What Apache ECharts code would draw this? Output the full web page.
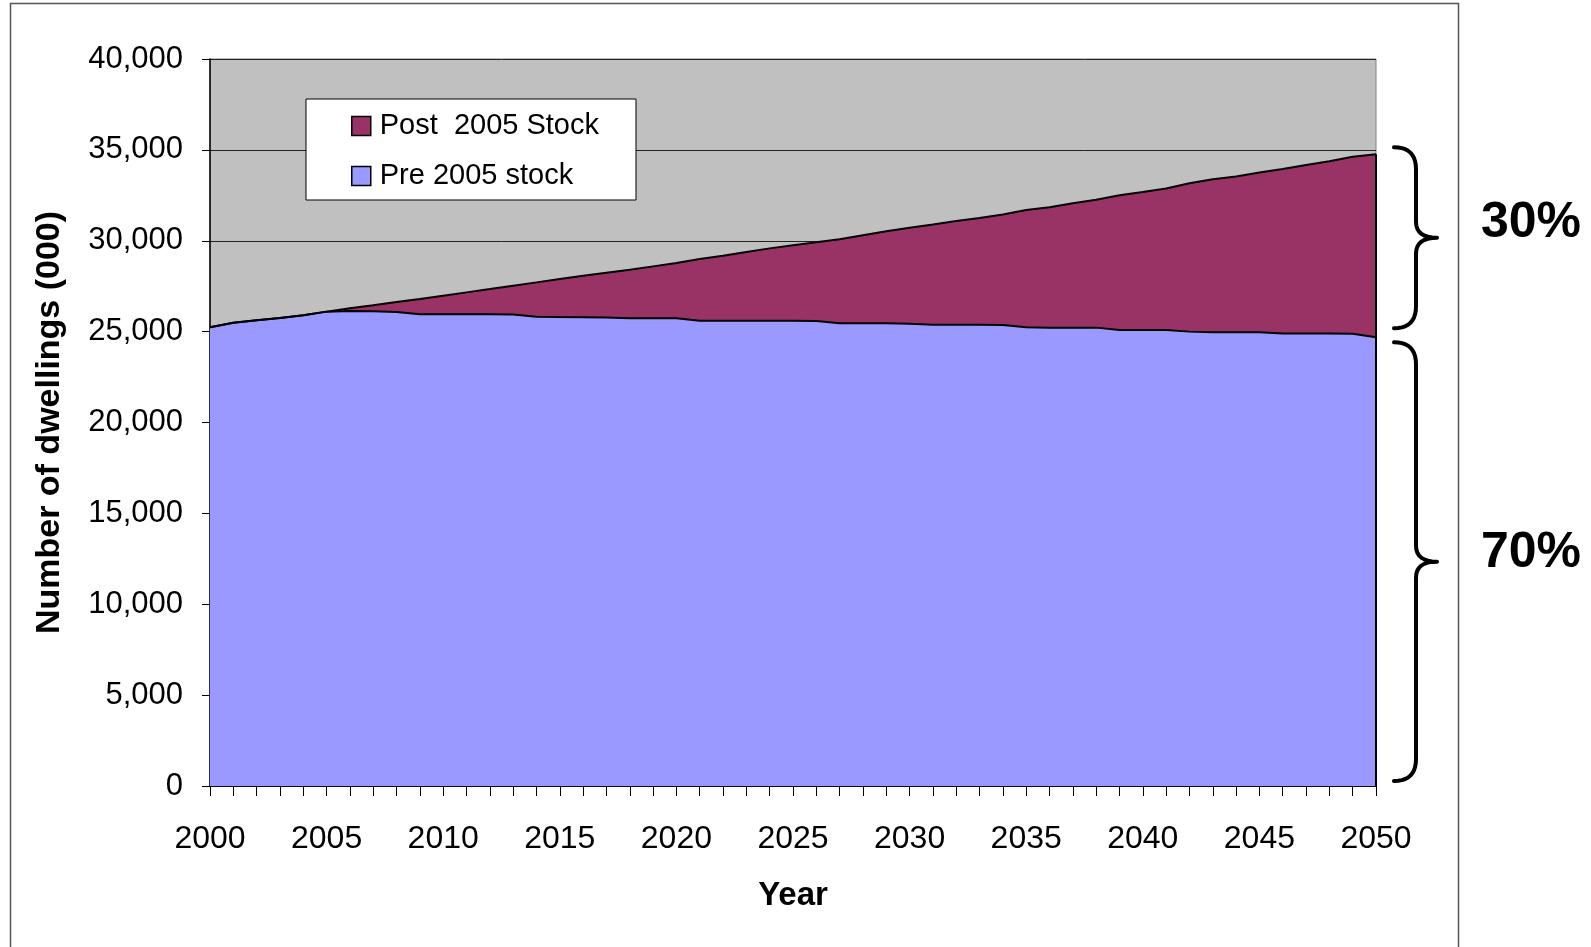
<!DOCTYPE html>
<html>
<head>
<meta charset="utf-8">
<script src="https://cdn.jsdelivr.net/npm/echarts@6/dist/echarts.min.js"></script>
<style>
  html, body { margin: 0; padding: 0; background: #fff; }
  #chart { width: 1591px; height: 947px; }
</style>
</head>
<body>
<div id="chart"></div>
<script>
// Dwelling stock projection, thousands of dwellings per year
const years = [
  '2000','2001','2002','2003','2004','2005','2006','2007','2008','2009',
  '2010','2011','2012','2013','2014','2015','2016','2017','2018','2019',
  '2020','2021','2022','2023','2024','2025','2026','2027','2028','2029',
  '2030','2031','2032','2033','2034','2035','2036','2037','2038','2039',
  '2040','2041','2042','2043','2044','2045','2046','2047','2048','2049',
  '2050'
];

const preStock = [
  25240, 25490, 25620, 25750, 25900, 26100, 26130, 26120, 26080, 25960,
  25960, 25960, 25960, 25940, 25820, 25800, 25790, 25780, 25730, 25730,
  25730, 25600, 25600, 25600, 25600, 25600, 25580, 25460, 25460, 25460,
  25440, 25380, 25380, 25380, 25360, 25240, 25220, 25220, 25220, 25090,
  25090, 25090, 25000, 24960, 24960, 24960, 24900, 24900, 24900, 24880,
  24690
];

const postStock = [
  0, 0, 0, 0, 0, 0, 150, 330, 550, 840,
  1020, 1200, 1380, 1590, 1890, 2100, 2290, 2460, 2670, 2860,
  3040, 3390, 3580, 3780, 3980, 4150, 4340, 4620, 4840, 5060,
  5280, 5520, 5710, 5870, 6090, 6450, 6620, 6840, 7040, 7410,
  7590, 7790, 8160, 8420, 8570, 8790, 9050, 9270, 9470, 9740,
  10070
];

const seriesNames = ['Pre 2005 stock', 'Post  2005 Stock'];
const shareLabels = ['30%', '70%'];
const yMin = 0, yMax = 40000, yStep = 5000;

const SANS = "'Liberation Sans', Arial, sans-serif";

const chart = echarts.init(document.getElementById('chart'), null, { renderer: 'canvas' });

const lastIdx = years.length - 1;

chart.setOption({
  animation: false,
  backgroundColor: '#ffffff',
  grid: {
    left: 210, right: 215, top: 59, bottom: 161,
    show: true,
    backgroundColor: '#C0C0C0',
    borderColor: '#808080',
    borderWidth: 1
  },
  legend: {
    left: 306, top: 99,
    orient: 'vertical',
    data: [seriesNames[1], seriesNames[0]],
    icon: 'rect',
    itemWidth: 19, itemHeight: 19, itemGap: 20,
    padding: [12, 37, 9, 45],
    backgroundColor: '#ffffff',
    borderColor: '#000000',
    borderWidth: 1,
    borderRadius: 0,
    itemStyle: { borderColor: '#000000', borderWidth: 1.5 },
    textStyle: { fontFamily: SANS, fontSize: 29, color: '#000', lineHeight: 30, padding: [0, 0, 0, 4] }
  },
  xAxis: {
    type: 'category',
    data: years,
    boundaryGap: false,
    axisLine: { show: true, lineStyle: { color: '#000', width: 1.5 } },
    axisTick: { show: true, interval: 0, length: 10, lineStyle: { color: '#000', width: 1 } },
    axisLabel: { interval: 4, fontFamily: SANS, fontSize: 32, color: '#000', margin: 37 },
    splitLine: { show: false },
    name: 'Year',
    nameLocation: 'middle',
    nameGap: 93,
    nameTextStyle: { fontFamily: SANS, fontSize: 33, fontWeight: 'bold', color: '#000' }
  },
  yAxis: {
    type: 'value',
    min: yMin, max: yMax, interval: yStep,
    axisLine: { show: true, lineStyle: { color: '#000', width: 1.5 } },
    axisTick: { show: true, length: 8, lineStyle: { color: '#000', width: 1 } },
    axisLabel: {
      fontFamily: SANS, fontSize: 31, color: '#000', margin: 27,
      formatter: v => v.toLocaleString('en-US')
    },
    splitLine: { show: true, lineStyle: { color: '#222', width: 1 } },
    name: 'Number of dwellings (000)',
    nameLocation: 'middle',
    nameRotate: 90,
    nameGap: 143,
    nameTextStyle: { fontFamily: SANS, fontSize: 34, fontWeight: 'bold', color: '#000' }
  },
  series: [
    {
      name: seriesNames[0],
      type: 'line',
      stack: 'dwellings',
      data: preStock,
      color: '#9999FF',
      showSymbol: false,
      lineStyle: { color: '#000', width: 2 },
      itemStyle: { color: '#9999FF' },
      areaStyle: { color: '#9999FF', opacity: 1 },
      silent: true
    },
    {
      name: seriesNames[1],
      type: 'line',
      stack: 'dwellings',
      data: postStock,
      color: '#993366',
      showSymbol: false,
      lineStyle: { color: '#000', width: 2 },
      itemStyle: { color: '#993366' },
      areaStyle: { color: '#993366', opacity: 1 },
      silent: true,
      markLine: {
        silent: true,
        symbol: 'none',
        label: { show: false },
        lineStyle: { color: '#000', width: 2, type: 'solid' },
        data: [[
          { coord: [years[lastIdx], 0] },
          { coord: [years[lastIdx], preStock[lastIdx] + postStock[lastIdx]] }
        ]]
      }
    }
  ]
});

// Curly brace outline as a polyline: two curls at the ends, a pointed tip in the middle
function quad(p0, c, p1, n, out) {
  for (let i = 1; i <= n; i++) {
    const t = i / n, u = 1 - t;
    out.push([
      u * u * p0[0] + 2 * u * t * c[0] + t * t * p1[0],
      u * u * p0[1] + 2 * u * t * c[1] + t * t * p1[1]
    ]);
  }
}

function bracePoints(x0, x1, x2, yTop, yBot) {
  const yMid = (yTop + yBot) / 2;
  const r = Math.min(22, (yBot - yTop) / 8);
  const t = 16;
  const pts = [[x0, yTop]];
  quad([x0, yTop], [x1, yTop], [x1, yTop + r], 10, pts);
  pts.push([x1, yMid - t]);
  quad([x1, yMid - t], [x1, yMid], [x2, yMid], 8, pts);
  quad([x2, yMid], [x1, yMid], [x1, yMid + t], 8, pts);
  pts.push([x1, yBot - r]);
  quad([x1, yBot - r], [x1, yBot], [x0, yBot], 10, pts);
  return pts;
}

const lastYear = years[lastIdx];
const totalLast = preStock[lastIdx] + postStock[lastIdx];
const pTop = chart.convertToPixel({ gridIndex: 0 }, [lastYear, totalLast]);
const pPre = chart.convertToPixel({ gridIndex: 0 }, [lastYear, preStock[lastIdx]]);
const pZero = chart.convertToPixel({ gridIndex: 0 }, [lastYear, 0]);
const xEdge = pTop[0];

// Upper brace spans the post-2005 share, lower brace the pre-2005 share
const braces = [
  { top: pTop[1] - 7, bottom: pPre[1] - 9, text: shareLabels[0], lift: 15 },
  { top: pPre[1] + 5, bottom: pZero[1] - 5, text: shareLabels[1], lift: 8 }
];

const graphics = [
  {
    type: 'rect',
    silent: true,
    shape: { x: 10.5, y: 3.5, width: 1448, height: 990 },
    style: { fill: 'none', stroke: '#555', lineWidth: 1.5 }
  }
];

braces.forEach(b => {
  graphics.push({
    type: 'polyline',
    silent: true,
    shape: { points: bracePoints(xEdge + 18, xEdge + 40, xEdge + 61, b.top, b.bottom) },
    style: { fill: 'none', stroke: '#000', lineWidth: 4, lineCap: 'round', lineJoin: 'round' }
  });
  graphics.push({
    type: 'text',
    silent: true,
    x: xEdge + 105,
    y: (b.top + b.bottom) / 2 - b.lift,
    style: {
      text: b.text,
      fontFamily: SANS,
      fontSize: 50,
      fontWeight: 'bold',
      fill: '#000',
      textAlign: 'left',
      textVerticalAlign: 'middle'
    }
  });
});

chart.setOption({ graphic: graphics });
</script>
</body>
</html>
